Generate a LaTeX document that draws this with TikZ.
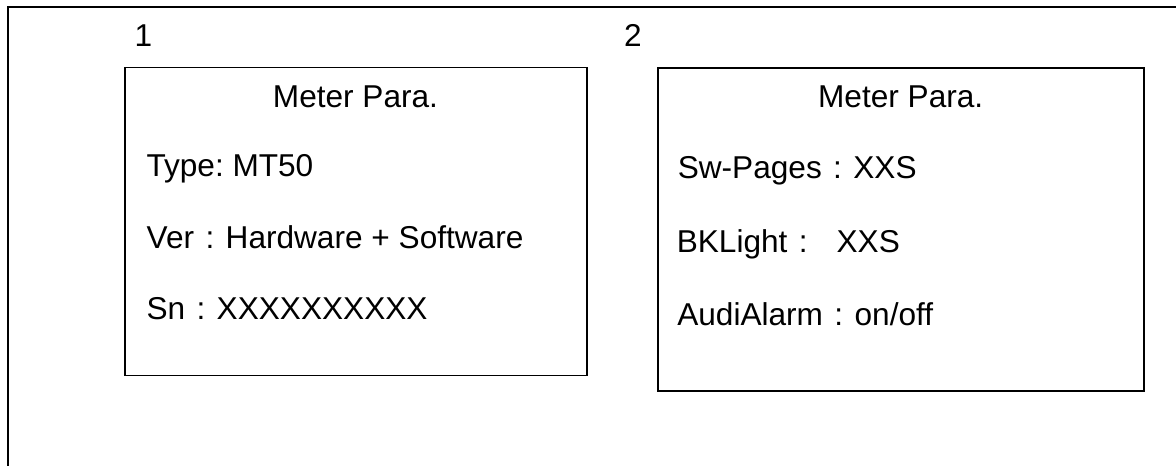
\documentclass[tikz,border=0pt]{standalone}
\usepackage{fontspec}
\setmainfont{Liberation Sans}
\newcommand{\fwc}{\makebox[1em][c]{:}}
\begin{document}
\frenchspacing
\begin{tikzpicture}[x=1pt,y=-1pt,
  txt/.style={inner sep=0pt, outer sep=0pt, font=\fontsize{31.6}{38}\selectfont},
  lefttxt/.style={txt, anchor=base west},
  title/.style={txt, anchor=base},
  panel/.style={draw, line width=1.8pt, inner sep=0pt, anchor=north west},
  frame/.style={line width=2pt}]
\useasboundingbox (0,0) rectangle (1176,466);
% outer frame (top and left edges)
\coordinate (fbl) at (8,466);
\coordinate (ftl) at (8,7);
\coordinate (ftr) at (1176,7);
\draw[frame] (fbl) -- (ftl) -- (ftr);
% panel numbers
\node[lefttxt] (n1) at (134.6,46.7) {1};
\node[lefttxt] (n2) at (624,46.7) {2};
% panel 1
\node[panel, minimum width=462pt, minimum height=308pt] (box1) at (124,66.5) {};
\node[title] (t1) at (355.5,107.3) {Meter Para.};
\node[lefttxt] (a1) at (146.5,176.7) {Type: MT50};
\node[lefttxt] (a2) at (146.7,248.3) {Ver\fwc Hardware + Software};
\node[lefttxt] (a3) at (146.5,319.5) {Sn\fwc XXXXXXXXXX};
% panel 2
\node[panel, minimum width=485.7pt, minimum height=323pt] (box2) at (657,67) {};
\node[title] (t2) at (900.7,107.3) {Meter Para.};
\node[lefttxt] (b1) at (677.8,178.3) {Sw-Pages\fwc XXS};
\node[lefttxt] (b2) at (676.8,252.7) {BKLight\fwc\ \ XXS};
\node[lefttxt] (b3) at (677.3,325) {AudiAlarm\fwc on/off};
\end{tikzpicture}
\end{document}
